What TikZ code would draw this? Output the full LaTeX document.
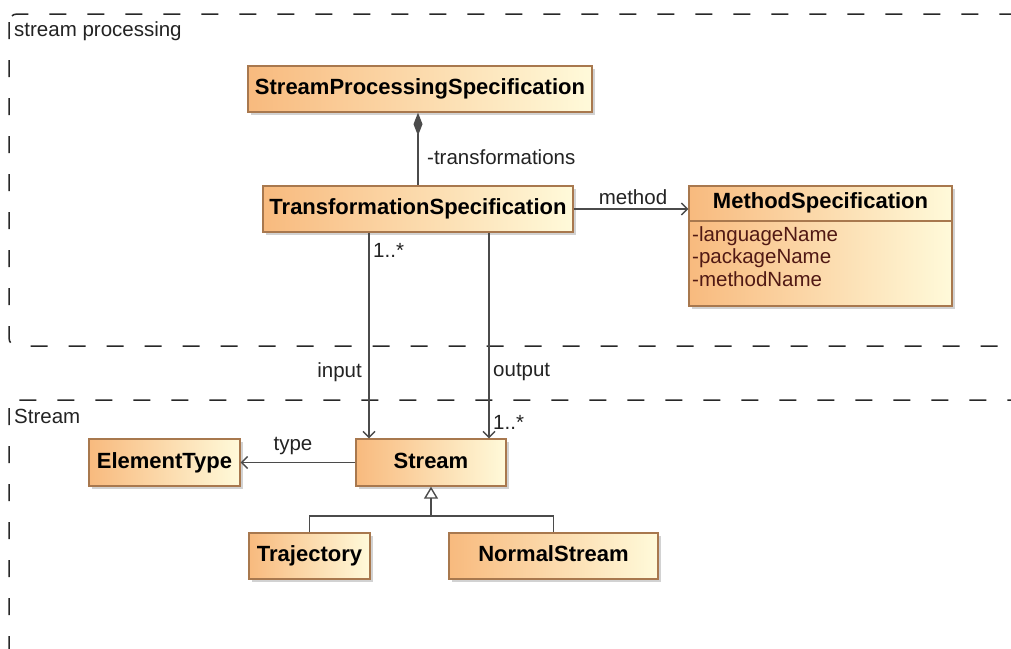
\documentclass[tikz,border=0pt]{standalone}
\usepackage{fontspec}
\setmainfont{Liberation Sans}
\usetikzlibrary{arrows.meta,shadows,calc}
\definecolor{boxL}{RGB}{248,186,126}
\definecolor{boxR}{RGB}{255,250,218}
\definecolor{boxborder}{RGB}{168,120,78}
\definecolor{linec}{RGB}{75,75,75}
\definecolor{pkgc}{RGB}{40,40,40}
\definecolor{attrc}{RGB}{80,25,20}
\definecolor{labc}{RGB}{35,35,35}
\begin{document}
\begin{tikzpicture}[x=1pt,y=-1pt,
  cls/.style={draw=boxborder, line width=1.3pt, left color=boxL, right color=boxR,
    drop shadow={shadow xshift=3pt, shadow yshift=-3pt, fill=black!35},
    inner sep=0pt, text height=15.5pt, text depth=4.5pt,
    font=\fontsize{22}{26}\selectfont\bfseries},
  pkg/.style={draw=pkgc, line width=1.5pt, dash pattern=on 17pt off 21pt, rounded corners=8pt},
  pkglabel/.style={anchor=base west, inner sep=0pt, text=labc, font=\fontsize{20.5}{24}\selectfont},
  lab/.style={inner sep=0pt, text=labc, font=\fontsize{20.5}{24}\selectfont},
  conn/.style={draw=linec, line width=1.4pt},
  assoc/.style={conn, -{Straight Barb[length=6pt,width=12pt]}},
  gen/.style={conn, -{Triangle[open, length=12pt, width=14pt, fill=white]}},
  comp/.style={conn, {Diamond[length=23pt, width=9pt, fill=linec]}-}
]
\useasboundingbox (0,0) rectangle (1011,648);
\fill[white] (0,0) rectangle (1011,648);
\clip (0,0) rectangle (1011,648);

% packages
\draw[pkg] (9,14) rectangle (1045,346);
\node[pkglabel] (pkgA) at (14,36) {stream processing};
\draw[pkg] (9,400) rectangle (1045,660);
\node[pkglabel] (pkgB) at (14,423) {Stream};

% classes
\node[cls, minimum width=344pt, minimum height=46pt] (sps) at (420,89) {StreamProcessingSpecification};
\node[cls, minimum width=310pt, minimum height=46pt] (ts) at (418,209) {TransformationSpecification};
\node[cls, minimum width=263pt, minimum height=120pt] (ms) at (820.5,246) {};
\node[inner sep=0pt, font=\fontsize{22}{26}\selectfont\bfseries] (mstitle) at (820.5,203) {MethodSpecification};
\draw[draw=boxborder, line width=1.1pt] (ms.west |- 0,221) -- (ms.east |- 0,221);
\node[anchor=north west, inner sep=0pt, align=left, text=attrc,
      font=\fontsize{20.5}{22.5}\selectfont] (msattr) at (692,226)
      {-languageName\\-packageName\\-methodName};

\node[cls, minimum width=151pt, minimum height=47pt] (et) at (164.5,462.5) {ElementType};
\node[cls, minimum width=150pt, minimum height=47pt] (stream) at (431,462.5) {Stream};
\node[cls, minimum width=121pt, minimum height=46pt] (traj) at (309.5,556) {Trajectory};
\node[cls, minimum width=209pt, minimum height=46pt] (ns) at (553.5,556) {NormalStream};

% connectors
\draw[comp] (sps.south -| ts.north) -- (ts.north);
\node[lab, anchor=west] (ltrans) at (427,157) {-transformations};

\draw[assoc] (ts.east) -- (ts.east -| ms.west);
\node[lab] (lmethod) at (633,197) {method};

\coordinate (inx) at (369,0);
\coordinate (outx) at (489,0);
\draw[assoc] (ts.south -| inx) -- (stream.north -| inx);
\draw[assoc] (ts.south -| outx) -- (stream.north -| outx);
\node[lab, anchor=west] (minA) at (373,250) {1..*};
\node[lab, anchor=east] (linput) at (362,372) {input};
\node[lab, anchor=west] (loutput) at (493,372) {output};
\node[lab, anchor=west] (moutB) at (493,422) {1..*};

\draw[assoc] (stream.west) -- (et.east);
\node[lab] (ltype) at (293,446) {type};

\coordinate (gj) at (431,516);
\draw[conn] (traj.north) |- (gj) -| (ns.north);
\draw[gen] (gj) -- (stream.south);
\end{tikzpicture}
\end{document}
